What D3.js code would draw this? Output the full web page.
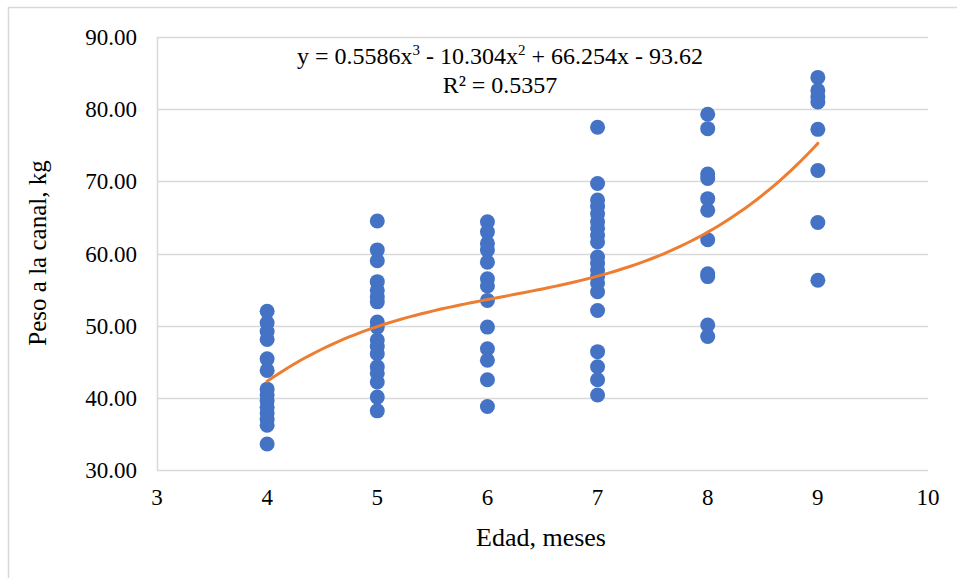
<!DOCTYPE html>
<html>
<head>
<meta charset="utf-8">
<script src="https://cdn.jsdelivr.net/npm/d3@7"></script>
<style>
  body { margin: 0; background: #fff; }
  text { font-family: "Liberation Serif", "Times New Roman", serif; fill: #000; }
</style>
</head>
<body>
<svg id="chart" width="957" height="578"></svg>
<script>
// Edad (meses) for each group of points
var ages = [4, 5, 6, 7, 8, 9];

// Peso a la canal (kg), one list per age
var weights4 = [52.0, 50.4, 49.2, 48.1, 45.4, 43.8, 41.2, 40.4, 39.6, 38.7, 37.9, 37.0, 36.2, 33.6];
var weights5 = [64.5, 60.5, 59.0, 56.1, 54.9, 54.0, 53.3, 50.5, 49.8, 48.0, 47.1, 46.1, 44.3, 43.4, 42.2, 40.1, 38.2];
var weights6 = [64.4, 63.0, 61.4, 60.5, 58.8, 56.5, 55.5, 53.5, 49.8, 46.8, 45.2, 42.5, 38.8];
var weights7 = [77.5, 69.7, 67.4, 66.5, 65.5, 64.4, 63.5, 62.5, 61.6, 59.5, 58.6, 57.7, 56.8, 55.9, 54.7, 52.1, 46.4, 44.3, 42.5, 40.4];
var weights8 = [79.3, 77.3, 71.0, 70.4, 67.6, 66.0, 61.9, 57.2, 56.8, 50.1, 48.5];
var weights9 = [84.4, 82.6, 81.7, 81.0, 77.2, 71.5, 64.3, 56.3];
var weightGroups = [weights4, weights5, weights6, weights7, weights8, weights9];

// Polynomial trend line (order 3) as shown on the chart
var trendCoefs = [0.5586, -10.304, 66.254, -93.62];
var trendLabel = "R² = 0.5357";

var xTicks = [3, 4, 5, 6, 7, 8, 9, 10];
var yTicks = [30, 40, 50, 60, 70, 80, 90];

var blue = "#4472C4";
var orange = "#ED7D31";
var gridGrey = "#d9d9d9";

var svg = d3.select("#chart");

// outer chart border (cut off at right and bottom)
svg.append("rect")
    .attr("x", 8.5)
    .attr("y", 7.5)
    .attr("width", 1200)
    .attr("height", 1200)
    .attr("fill", "none")
    .attr("stroke", gridGrey)
    .attr("stroke-width", 1.5);

var plotLeft = 157, plotRight = 928, plotTop = 37, plotBottom = 470;

var x = d3.scaleLinear().domain([3, 10]).range([plotLeft, plotRight]);
var y = d3.scaleLinear().domain([30, 90]).range([plotBottom, plotTop]);

// horizontal gridlines
svg.append("g")
    .selectAll("line")
    .data(yTicks)
    .enter()
    .append("line")
    .attr("x1", plotLeft)
    .attr("x2", plotRight)
    .attr("y1", d => Math.round(y(d)) + 0.5)
    .attr("y2", d => Math.round(y(d)) + 0.5)
    .attr("stroke", gridGrey)
    .attr("stroke-width", 1.5);

// left axis line
svg.append("line")
    .attr("x1", plotLeft + 0.5)
    .attr("x2", plotLeft + 0.5)
    .attr("y1", plotTop)
    .attr("y2", plotBottom)
    .attr("stroke", gridGrey)
    .attr("stroke-width", 1.5);

// y tick labels
svg.append("g")
    .selectAll("text")
    .data(yTicks)
    .enter()
    .append("text")
    .attr("x", 137)
    .attr("y", d => y(d) + 8)
    .attr("text-anchor", "end")
    .style("font-size", "23px")
    .text(d => d.toFixed(2));

// x tick labels
svg.append("g")
    .selectAll("text")
    .data(xTicks)
    .enter()
    .append("text")
    .attr("x", d => x(d))
    .attr("y", 505)
    .attr("text-anchor", "middle")
    .style("font-size", "23px")
    .text(d => d);

// points
var points = [];
weightGroups.forEach(function (list, i) {
    list.forEach(function (w) { points.push({ age: ages[i], weight: w }); });
});

svg.append("g")
    .selectAll("circle")
    .data(points)
    .enter()
    .append("circle")
    .attr("cx", d => x(d.age))
    .attr("cy", d => y(d.weight))
    .attr("r", 7.5)
    .attr("fill", blue);

// trend line from the displayed equation
function trend(t) {
    return trendCoefs[0] * t * t * t + trendCoefs[1] * t * t + trendCoefs[2] * t + trendCoefs[3];
}
var trendXs = d3.range(0, 101).map(i => ages[0] + (ages[ages.length - 1] - ages[0]) * i / 100);

var line = d3.line()
    .x(d => x(d))
    .y(d => y(trend(d)));

svg.append("path")
    .datum(trendXs)
    .attr("d", line)
    .attr("fill", "none")
    .attr("stroke", orange)
    .attr("stroke-width", 3)
    .attr("stroke-linecap", "round");

// equation label
var eq = svg.append("text")
    .attr("x", 500)
    .attr("y", 64)
    .attr("text-anchor", "middle")
    .style("font-size", "24px");
eq.append("tspan").text("y = 0.5586x");
eq.append("tspan").attr("dy", -9).style("font-size", "15px").text("3");
eq.append("tspan").attr("dy", 9).text(" - 10.304x");
eq.append("tspan").attr("dy", -9).style("font-size", "15px").text("2");
eq.append("tspan").attr("dy", 9).text(" + 66.254x - 93.62");

svg.append("text")
    .attr("x", 500)
    .attr("y", 93)
    .attr("text-anchor", "middle")
    .style("font-size", "24px")
    .text(trendLabel);

// axis titles
svg.append("text")
    .attr("x", 541)
    .attr("y", 546)
    .attr("text-anchor", "middle")
    .style("font-size", "26px")
    .text("Edad, meses");

svg.append("text")
    .attr("transform", "translate(46,253) rotate(-90)")
    .attr("text-anchor", "middle")
    .style("font-size", "25px")
    .text("Peso a la canal, kg");
</script>
</body>
</html>
